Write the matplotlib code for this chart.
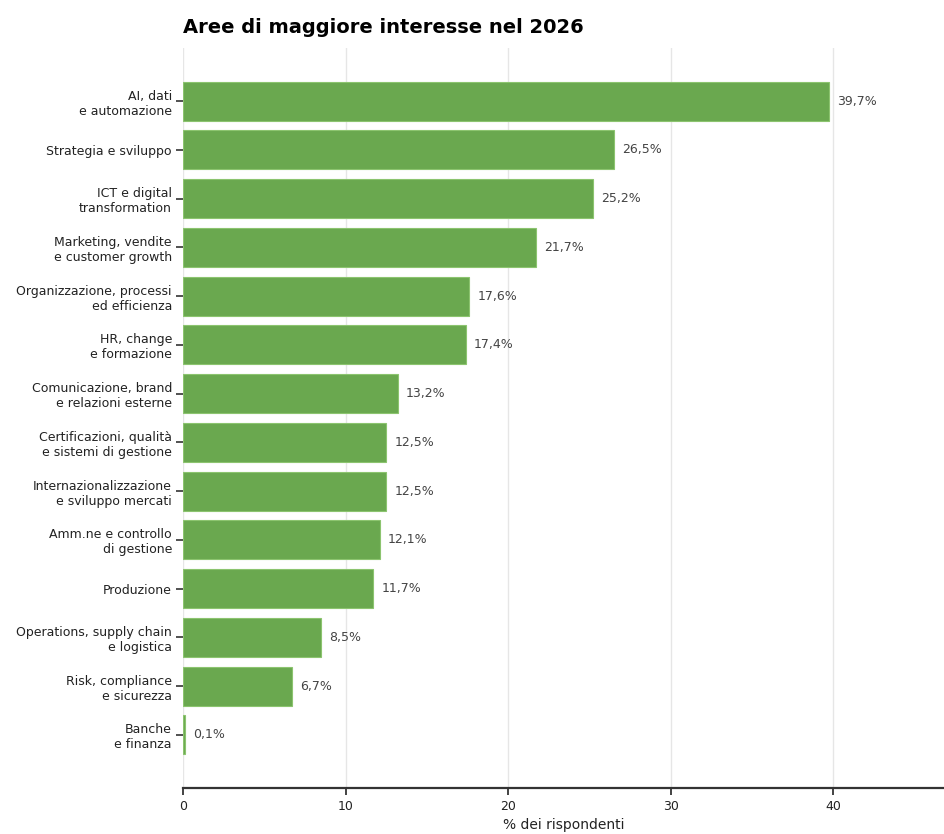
import matplotlib.pyplot as plt

categories = [
    "AI, dati\ne automazione",
    "Strategia e sviluppo",
    "ICT e digital\ntransformation",
    "Marketing, vendite\ne customer growth",
    "Organizzazione, processi\ned efficienza",
    "HR, change\ne formazione",
    "Comunicazione, brand\ne relazioni esterne",
    "Certificazioni, qualità\ne sistemi di gestione",
    "Internazionalizzazione\ne sviluppo mercati",
    "Amm.ne e controllo\ndi gestione",
    "Produzione",
    "Operations, supply chain\ne logistica",
    "Risk, compliance\ne sicurezza",
    "Banche\ne finanza",
]
values = [39.7, 26.5, 25.2, 21.7, 17.6, 17.4, 13.2, 12.5, 12.5, 12.1, 11.7, 8.5, 6.7, 0.1]

fig = plt.figure(figsize=(9.44, 8.34), dpi=100)
ax = fig.add_axes([183 / 944, 46 / 834, 1 - 183 / 944, 740 / 834])

ypos = list(range(len(categories)))
bars = ax.barh(ypos, values, height=0.8, color="#6aa84f", edgecolor="#8cc46f",
               linewidth=0.8, zorder=2)
ax.invert_yaxis()
ax.set_yticks(ypos)
ax.set_yticklabels(categories, fontsize=9, color="#222222")
ax.set_xlim(0, 46.8)
ax.set_xticks([0, 10, 20, 30, 40])
ax.tick_params(axis="x", labelsize=9, colors="#222222", length=5, width=1.2)
ax.tick_params(axis="y", length=5, width=1.2, color="#333333", pad=3)

for b, v in zip(bars, values):
    ax.text(b.get_width() + 0.5, b.get_y() + b.get_height() / 2,
            f"{v:.1f}%".replace(".", ","), va="center", ha="left",
            fontsize=9, color="#444444")

ax.grid(axis="x", color="#e6e6e6", linewidth=1, zorder=0)
ax.set_axisbelow(True)
for s in ["top", "right", "left"]:
    ax.spines[s].set_visible(False)
ax.spines["bottom"].set_color("#333333")
ax.spines["bottom"].set_linewidth(1.6)

ax.set_xlabel("% dei rispondenti", fontsize=10, color="#222222", labelpad=4)
ax.set_title("Aree di maggiore interesse nel 2026", loc="left", fontsize=14,
             fontweight="bold", pad=11)

fig.savefig("out.png", dpi=100)
